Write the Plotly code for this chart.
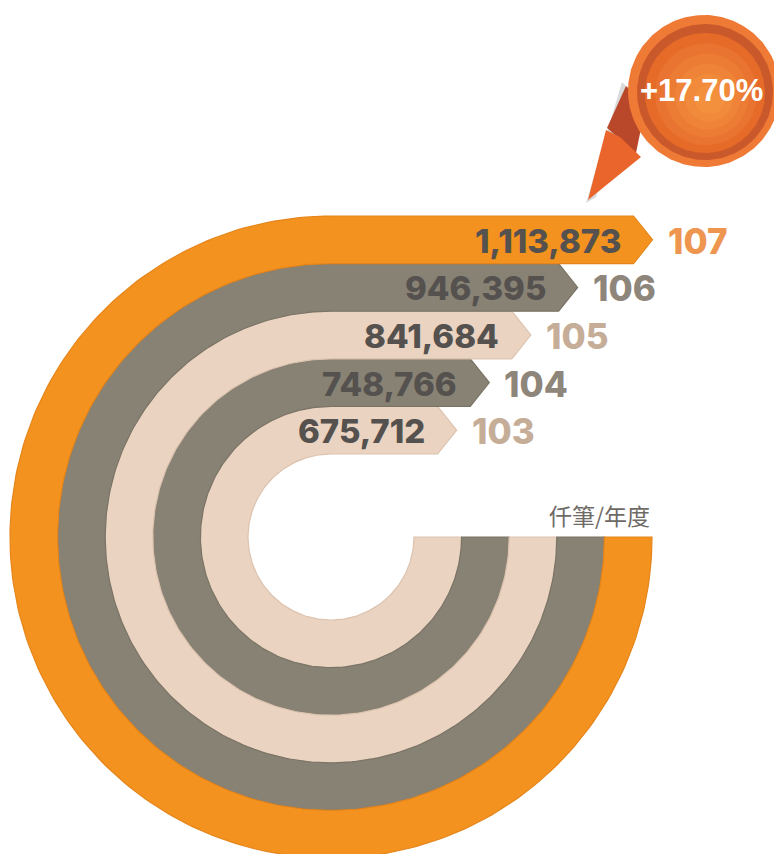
import numpy as np
import plotly.graph_objects as go

# ---------------- data ----------------
years = ["103", "104", "105", "106", "107"]
values = [675712, 748766, 841684, 946395, 1113873]
value_labels = ["675,712", "748,766", "841,684", "946,395", "1,113,873"]
growth_label = "+17.70%"
unit_label = "仟筆/年度"

# ---------------- styles ----------------
ring_colors = ["#EAD3C0", "#888275", "#EAD3C0", "#888275", "#F3921E"]
edge_colors = ["#DCC3AF", "#7A7466", "#DCC3AF", "#7A7466", "#E5851B"]
year_colors = ["#C5AD97", "#8E857B", "#C5AD97", "#8E857B", "#EE9650"]
value_color = "#54514E"

W, H = 774, 854
CX, CY = 331.0, 537.0
R0 = 83.0
RING_W = 47.6
TIP_DEPTH = 19.0
# linear scale value -> horizontal bar length (px)
LEN_A, LEN_B = -176.4, 0.447e-3

fig = go.Figure()

th = np.radians(np.linspace(90, 360, 240))
for i, (v, col, ecol) in enumerate(zip(values, ring_colors, edge_colors)):
    ri = R0 + i * RING_W
    ro = ri + RING_W
    tip = CX + LEN_A + LEN_B * v
    rect_end = tip - TIP_DEPTH
    ymid = CY - (ri + ro) / 2
    xs = [CX, rect_end, tip, rect_end, CX]
    ys = [CY - ro, CY - ro, ymid, CY - ri, CY - ri]
    xs += list(CX + ri * np.cos(th))
    ys += list(CY - ri * np.sin(th))
    xs += list(CX + ro * np.cos(th[::-1]))
    ys += list(CY - ro * np.sin(th[::-1]))
    xs.append(CX)
    ys.append(CY - ro)
    fig.add_trace(go.Scatter(x=xs, y=ys, mode="lines", fill="toself",
                             fillcolor=col, line=dict(color=ecol, width=1.2),
                             hoverinfo="skip"))

# ---------------- badge ----------------
BX, BY = 704.0, 91.0
tail_shapes = [
    ([586, 622, 628, 596], [203, 82, 88, 197], "#DADADA"),
    ([607, 626, 646, 636], [128, 86, 104, 153], "#B9472A"),
    ([588, 606, 620, 641], [200, 130, 137, 157], "#E9652B"),
]
for xs, ys, c in tail_shapes:
    fig.add_trace(go.Scatter(x=xs + [xs[0]], y=ys + [ys[0]], mode="lines", fill="toself",
                             fillcolor=c, line=dict(width=0), hoverinfo="skip"))

tc = np.radians(np.linspace(0, 360, 200))
def circle(cx, cy, r, color):
    fig.add_trace(go.Scatter(x=cx + r * np.cos(tc), y=cy + r * np.sin(tc), mode="lines",
                             fill="toself", fillcolor=color, line=dict(width=0),
                             hoverinfo="skip"))

circle(BX, BY, 76, "#EE7A36")
circle(BX + 1, BY + 1, 68, "#C9592B")
grad = ["#E66A28", "#E97330", "#EC7B34", "#EF8338", "#F18A3B", "#F3903E"]
for k, c in enumerate(grad):
    r = 60 - k * 9
    circle(BX + 1 + k * 1.0, BY + 2 + k * 1.2, r, c)

# ---------------- texts ----------------
ann = []
for i, (v, lab, yr, yc) in enumerate(zip(values, value_labels, years, year_colors)):
    ri = R0 + i * RING_W
    ro = ri + RING_W
    tip = CX + LEN_A + LEN_B * v
    rect_end = tip - TIP_DEPTH
    ymid = CY - (ri + ro) / 2
    ann.append(dict(x=rect_end - 11, y=ymid + 1, text=lab, xanchor="right",
                    yanchor="middle", showarrow=False,
                    font=dict(family="Inter", size=33, color=value_color, weight=800)))
    ann.append(dict(x=tip + 13, y=ymid + 1, text=yr, xanchor="left",
                    yanchor="middle", showarrow=False,
                    font=dict(family="Inter", size=35, color=yc, weight=800)))

ann.append(dict(x=CX + R0 + 5 * RING_W, y=CY - 22, text=unit_label, xanchor="right",
                yanchor="middle", showarrow=False,
                font=dict(family="Noto Sans CJK TC", size=23, color="#6E6A66")))
ann.append(dict(x=BX - 3, y=BY - 1, text=f"<b>{growth_label}</b>", xanchor="center",
                yanchor="middle", showarrow=False,
                font=dict(family="Liberation Sans", size=31, color="white")))

fig.update_layout(
    width=W, height=H, margin=dict(l=0, r=0, t=0, b=0),
    paper_bgcolor="white", plot_bgcolor="white", showlegend=False,
    xaxis=dict(range=[0, W], visible=False, fixedrange=True),
    yaxis=dict(range=[H, 0], visible=False, fixedrange=True),
    annotations=ann,
)
fig.write_html("out.html", config={"displayModeBar": False},
               post_script="document.body.style.margin='0';document.body.style.overflow='hidden';")
